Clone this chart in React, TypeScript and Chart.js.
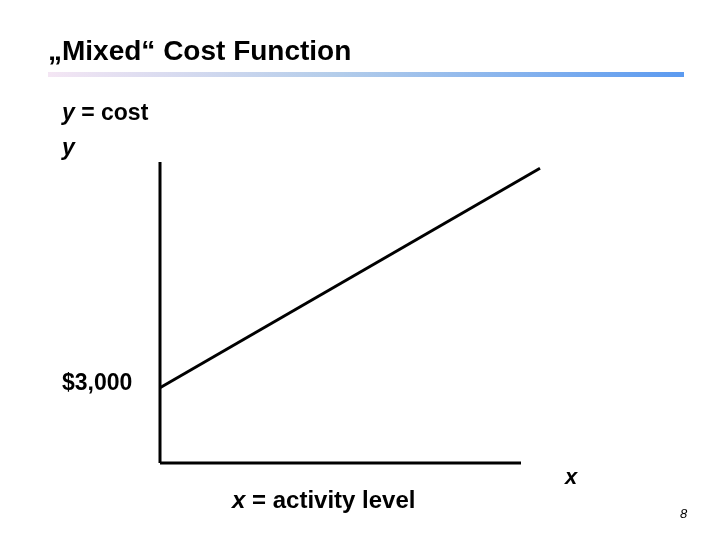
import React, { useEffect, useRef } from "react";
import { Chart, registerables } from "chart.js";

Chart.register(...registerables);

// Data
const activity: number[] = [0, 10];
const cost: number[] = [3000, 11750];
const fixedCost = 3000;
const xAxisEnd = 9.5;
const yAxisTop = 12000;
const titleText = "„Mixed“ Cost Function";
const yLabel1 = "y = cost";
const yLabel2 = "y";
const fixedLabel = "$3,000";
const xLabel = "x = activity level";
const xLetter = "x";
const pageNumber = "8";

const FONT = '"Liberation Sans", Arial, sans-serif';

const textPlugin = {
  id: "slideText",
  afterDraw(chart: any) {
    const ctx = chart.ctx as CanvasRenderingContext2D;
    const ys = chart.scales.y;
    ctx.save();
    // title
    ctx.fillStyle = "#000";
    ctx.textBaseline = "middle";
    ctx.textAlign = "left";
    ctx.font = `bold 28px ${FONT}`;
    ctx.fillText(titleText, 48, 52);
    // gradient bar
    const g = ctx.createLinearGradient(48, 0, 684, 0);
    g.addColorStop(0, "#f4e6f4");
    g.addColorStop(0.45, "#b4cdea");
    g.addColorStop(1, "#5b9af0");
    ctx.fillStyle = g;
    ctx.fillRect(48, 72, 636, 5);
    // labels
    ctx.fillStyle = "#000";
    const drawMixed = (parts: [string, boolean][], x: number, y: number, size: number) => {
      let cx = x;
      for (const [t, it] of parts) {
        ctx.font = `${it ? "italic " : ""}bold ${size}px ${FONT}`;
        ctx.fillText(t, cx, y);
        cx += ctx.measureText(t).width;
      }
    };
    drawMixed([[yLabel1.slice(0, 1), true], [yLabel1.slice(1), false]], 62, 114, 23);
    drawMixed([[yLabel2, true]], 62, 149, 23);
    ctx.font = `bold 23px ${FONT}`;
    ctx.fillText(fixedLabel, 62, ys.getPixelForValue(fixedCost) - 4);
    drawMixed([[xLabel.slice(0, 1), true], [xLabel.slice(1), false]], 232, 501, 24);
    ctx.font = `bold italic 22px ${FONT}`;
    ctx.fillText(xLetter, 565, 478);
    ctx.font = `italic 13px ${FONT}`;
    ctx.fillText(pageNumber, 680, 514);
    ctx.restore();
  },
};

export default function App() {
  const ref = useRef<HTMLCanvasElement | null>(null);
  useEffect(() => {
    if (!ref.current) return;
    const lineStyle = {
      borderColor: "#000",
      borderWidth: 3,
      pointRadius: 0,
      showLine: true,
      fill: false,
      tension: 0,
      clip: false as any,
    };
    const chart = new Chart(ref.current, {
      type: "scatter",
      data: {
        datasets: [
          { ...lineStyle, data: activity.map((a, i) => ({ x: a, y: cost[i] })) },
          { ...lineStyle, data: [{ x: 0, y: 0 }, { x: 0, y: yAxisTop }] },
          { ...lineStyle, data: [{ x: 0, y: 0 }, { x: xAxisEnd, y: 0 }] },
        ],
      },
      options: {
        animation: false,
        responsive: false,
        maintainAspectRatio: false,
        layout: { padding: { left: 160, right: 180, top: 162, bottom: 77 } },
        plugins: { legend: { display: false }, tooltip: { enabled: false }, title: { display: false } },
        scales: {
          x: { type: "linear", min: 0, max: 10, display: false },
          y: { type: "linear", min: 0, max: yAxisTop, display: false },
        },
      },
      plugins: [textPlugin],
    });
    return () => chart.destroy();
  }, []);
  return (
    <div style={{ position: "fixed", left: 0, top: 0, width: 720, height: 540, background: "#fff" }}>
      <canvas ref={ref} width={720} height={540} style={{ width: 720, height: 540, display: "block" }} />
    </div>
  );
}
